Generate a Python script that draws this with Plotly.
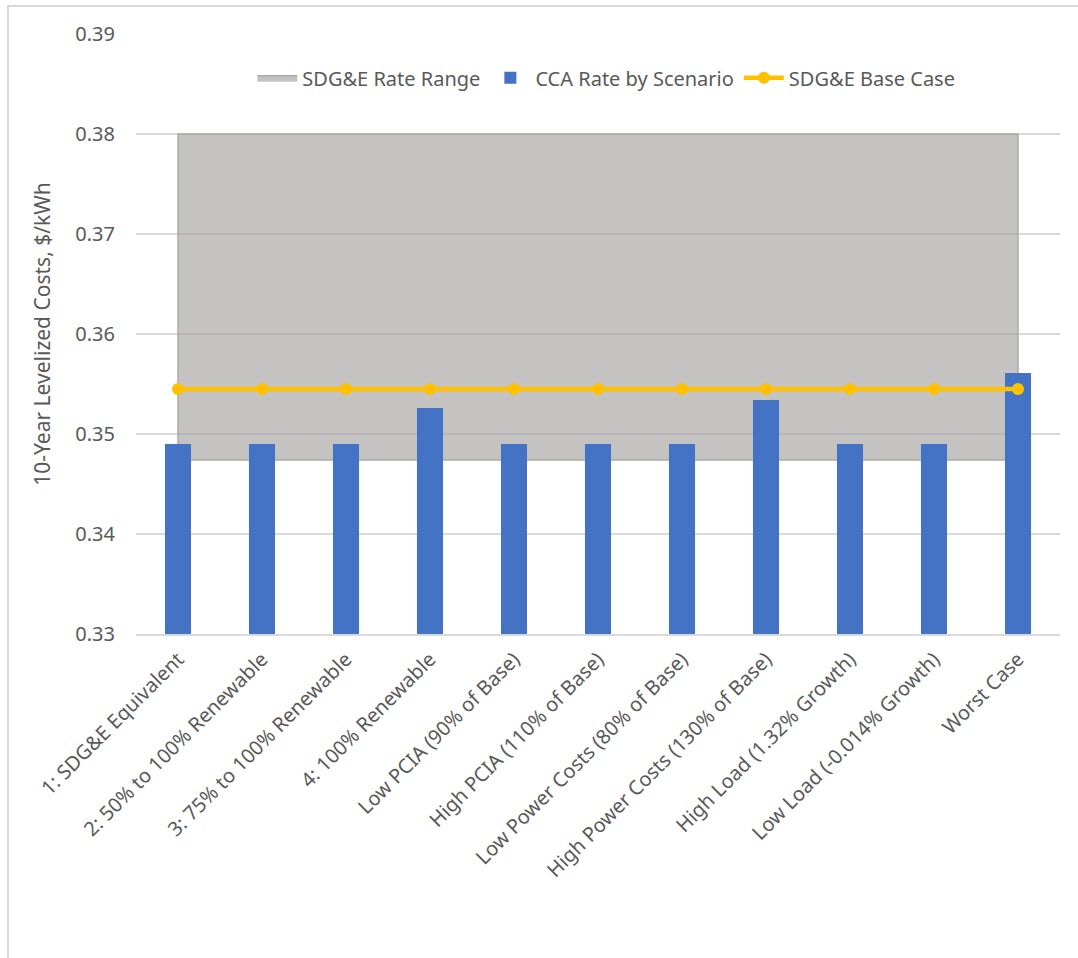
import plotly.graph_objects as go

categories = [
    "1: SDG&E Equivalent",
    "2: 50% to 100% Renewable",
    "3: 75% to 100% Renewable",
    "4: 100% Renewable",
    "Low PCIA (90% of Base)",
    "High PCIA (110% of Base)",
    "Low Power Costs (80% of Base)",
    "High Power Costs (130% of Base)",
    "High Load (1.32% Growth)",
    "Low Load (-0.014% Growth)",
    "Worst Case",
]
cca_rate = [0.3490, 0.3490, 0.3490, 0.3526, 0.3490, 0.3490, 0.3490, 0.3534, 0.3490, 0.3490, 0.3561]
sdge_base = [0.3545] * len(categories)
sdge_range_low = 0.3474
sdge_range_high = 0.3800

TXT = "#595959"
FONT = "Noto Sans"

fig = go.Figure()

# Rate range as a closed rectangle from first to last category
rx = [categories[0], categories[-1], categories[-1], categories[0], categories[0]]
ry = [sdge_range_low, sdge_range_low, sdge_range_high, sdge_range_high, sdge_range_low]
fig.add_trace(go.Scatter(
    x=rx, y=ry, mode="lines", fill="toself",
    fillcolor="rgba(160,158,156,0.62)",
    line=dict(color="#ABAAA9", width=1.5),
    name="SDG&E Rate Range", xaxis="x", yaxis="y", hoverinfo="skip",
))
fig.add_trace(go.Bar(
    x=categories, y=cca_rate, base=0,
    marker=dict(color="#4472C4", line=dict(width=0)),
    width=0.31, name="CCA Rate by Scenario", xaxis="x2", yaxis="y2",
))
fig.add_trace(go.Scatter(
    x=categories, y=sdge_base, mode="lines+markers",
    line=dict(color="#FFC000", width=4.5),
    marker=dict(color="#FFC000", size=12),
    name="SDG&E Base Case", xaxis="x2", yaxis="y2",
))

yr = [0.33, 0.39]
xr = [-0.5, len(categories) - 0.5]

fig.update_layout(
    width=1078, height=958,
    margin=dict(l=136, r=18, t=34, b=324),
    paper_bgcolor="white", plot_bgcolor="white",
    font=dict(family=FONT, color=TXT, size=20),
    barmode="overlay",
    showlegend=True,
    legend=dict(
        orientation="h", x=0.509, xanchor="center", y=0.927, yanchor="middle",
        font=dict(size=20, color=TXT), bgcolor="rgba(0,0,0,0)",
        itemwidth=40, traceorder="normal",
    ),
    xaxis=dict(
        type="category", categoryorder="array", categoryarray=categories,
        range=xr, tickangle=-45, tickfont=dict(size=20, color=TXT),
        showgrid=False, showline=True, linecolor="#D9D9D9", linewidth=1.5,
        ticks="", ticklabelstandoff=4,
    ),
    yaxis=dict(
        range=yr, dtick=0.01, tick0=0.33, tickformat=".2f",
        tickfont=dict(size=20, color=TXT),
        showgrid=True, gridcolor="#D9D9D9", gridwidth=1.5,
        zeroline=False, showline=False, ticks="", ticklabelstandoff=20,
        title=dict(text="10-Year Levelized Costs, $/kWh", font=dict(size=21, color=TXT), standoff=18),
    ),
    xaxis2=dict(
        type="category", categoryorder="array", categoryarray=categories,
        range=xr, overlaying="x", visible=False,
    ),
    yaxis2=dict(range=yr, overlaying="y", visible=False),
    shapes=[
        dict(type="rect", xref="paper", yref="paper",
             x0=(8 - 136) / 924, x1=(1090 - 136) / 924,
             y0=(634 - 970) / 600, y1=1 + (34 - 6) / 600,
             line=dict(color="#D9D9D9", width=2), fillcolor="rgba(0,0,0,0)", layer="below"),
    ],
)

fig.write_html("out.html")
